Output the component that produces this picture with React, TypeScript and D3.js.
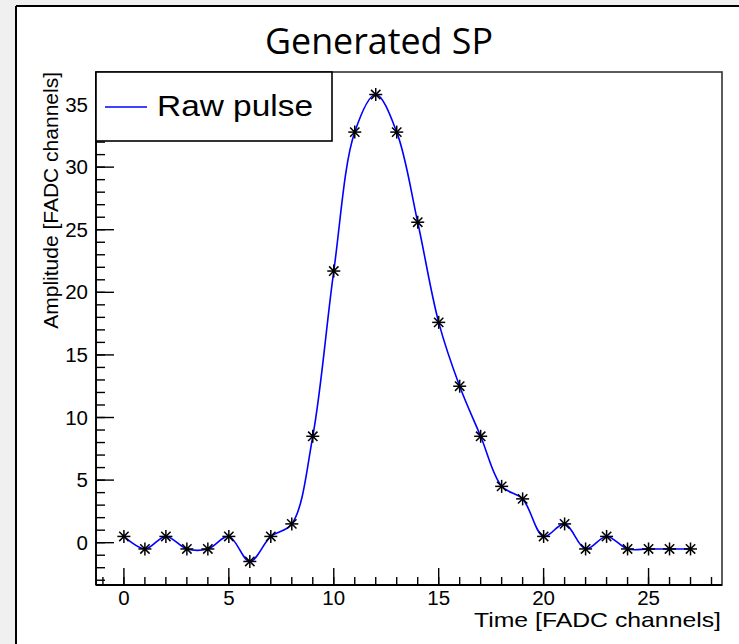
import React from "react";
import * as d3 from "d3";

const titleText = "Generated SP";
const legendLabel = "Raw pulse";
const xAxisTitle = "Time [FADC channels]";
const yAxisTitle = "Amplitude [FADC channels]";

const timeChannels = [0, 1, 2, 3, 4, 5, 6, 7, 8, 9, 10, 11, 12, 13, 14, 15, 16, 17, 18, 19, 20, 21, 22, 23, 24, 25, 26, 27];
const amplitudes = [0.5, -0.5, 0.5, -0.5, -0.5, 0.5, -1.5, 0.5, 1.5, 8.5, 21.7, 32.8, 35.8, 32.8, 25.6, 17.6, 12.5, 8.5, 4.5, 3.5, 0.5, 1.5, -0.5, 0.5, -0.5, -0.5, -0.5, -0.5];

const xMajorTicks = [0, 5, 10, 15, 20, 25];
const xMinorTicks = d3.range(-1, 29);
const yMajorTicks = [0, 5, 10, 15, 20, 25, 30, 35];
const yMinorTicks = d3.range(-3, 38);

const W = 739;
const H = 644;
const left = 96;
const right = 722;
const top = 72;
const bottom = 585;

export default function App() {
  const x = d3.scaleLinear().domain([-1.33, 28.5]).range([left, right]);
  const y = d3.scaleLinear().domain([-3.38, 37.6]).range([bottom, top]);

  const pts = timeChannels.map((t, i) => [t, amplitudes[i]] as [number, number]);
  const line = d3
    .line<[number, number]>()
    .x((d) => x(d[0]))
    .y((d) => y(d[1]))
    .curve(d3.curveCatmullRom.alpha(0.5));

  const star = (cx: number, cy: number, k: number) => {
    const r = 6.5;
    const d = r * 0.72;
    return (
      <g key={k} stroke="#000" strokeWidth={1.5}>
        <line x1={cx - r} y1={cy} x2={cx + r} y2={cy} />
        <line x1={cx} y1={cy - r} x2={cx} y2={cy + r} />
        <line x1={cx - d} y1={cy - d} x2={cx + d} y2={cy + d} />
        <line x1={cx - d} y1={cy + d} x2={cx + d} y2={cy - d} />
        <circle cx={cx} cy={cy} r={1.7} fill="#000" stroke="none" />
      </g>
    );
  };

  const font = "Liberation Sans, Arial, Helvetica, sans-serif";

  return (
    <div style={{ position: "absolute", left: 0, top: 0 }}>
      <svg width={W} height={H} style={{ display: "block" }}>
        <rect x={0} y={0} width={W} height={H} fill="#f0f0f0" />
        <rect x={17} y={7} width={W - 17} height={H - 7} fill="#fff" />
        <line x1={16} y1={6} x2={W} y2={6} stroke="#000" strokeWidth={2} />
        <line x1={16} y1={6} x2={16} y2={H} stroke="#000" strokeWidth={2} />

        <text
          x={265}
          y={54}
          fontFamily="Open Sans, Noto Sans, sans-serif"
          fontSize={36}
          fill="#000"
          textLength={228}
          lengthAdjust="spacingAndGlyphs"
        >
          {titleText}
        </text>

        {/* frame */}
        <rect x={left} y={top} width={right - left} height={bottom - top} fill="none" stroke="#333" strokeWidth={1.6} />
        <line x1={left} y1={top} x2={left} y2={bottom} stroke="#000" strokeWidth={1.8} />
        <line x1={left} y1={bottom} x2={right} y2={bottom} stroke="#000" strokeWidth={1.8} />

        {/* x ticks */}
        {xMinorTicks.map((t) => (
          <line key={"xm" + t} x1={x(t)} x2={x(t)} y1={bottom} y2={bottom - 8} stroke="#000" strokeWidth={1.4} />
        ))}
        {xMajorTicks.map((t) => (
          <g key={"xM" + t}>
            <line x1={x(t)} x2={x(t)} y1={bottom} y2={bottom - 17} stroke="#000" strokeWidth={1.4} />
            <text x={x(t)} y={605} textAnchor="middle" fontFamily={font} fontSize={20.5} fill="#000">
              {t}
            </text>
          </g>
        ))}

        {/* y ticks */}
        {yMinorTicks.map((t) => (
          <line key={"ym" + t} x1={left} x2={left + 9} y1={y(t)} y2={y(t)} stroke="#000" strokeWidth={1.4} />
        ))}
        {yMajorTicks.map((t) => (
          <g key={"yM" + t}>
            <line x1={left} x2={left + 18} y1={y(t)} y2={y(t)} stroke="#000" strokeWidth={1.4} />
            <text x={88} y={y(t) + 7} textAnchor="end" fontFamily={font} fontSize={20.5} fill="#000">
              {t}
            </text>
          </g>
        ))}

        {/* axis titles */}
        <text
          x={721}
          y={627}
          textAnchor="end"
          fontFamily={font}
          fontSize={21}
          fill="#000"
          textLength={247}
          lengthAdjust="spacingAndGlyphs"
        >
          {xAxisTitle}
        </text>
        <text
          transform={`translate(58,72) rotate(-90)`}
          textAnchor="end"
          fontFamily={font}
          fontSize={21}
          fill="#000"
        >
          {yAxisTitle}
        </text>

        {/* curve */}
        <path d={line(pts) ?? ""} fill="none" stroke="#0000ff" strokeWidth={1.6} />
        {pts.map((p, i) => star(x(p[0]), y(p[1]), i))}

        {/* legend */}
        <rect x={left} y={top} width={332 - left} height={141 - top} fill="#fff" stroke="#000" strokeWidth={1.6} />
        <line x1={105} x2={147} y1={107} y2={107} stroke="#0000ff" strokeWidth={1.4} />
        <text
          x={157}
          y={116}
          fontFamily={font}
          fontSize={29}
          fill="#000"
          textLength={156}
          lengthAdjust="spacingAndGlyphs"
        >
          {legendLabel}
        </text>
      </svg>
    </div>
  );
}
